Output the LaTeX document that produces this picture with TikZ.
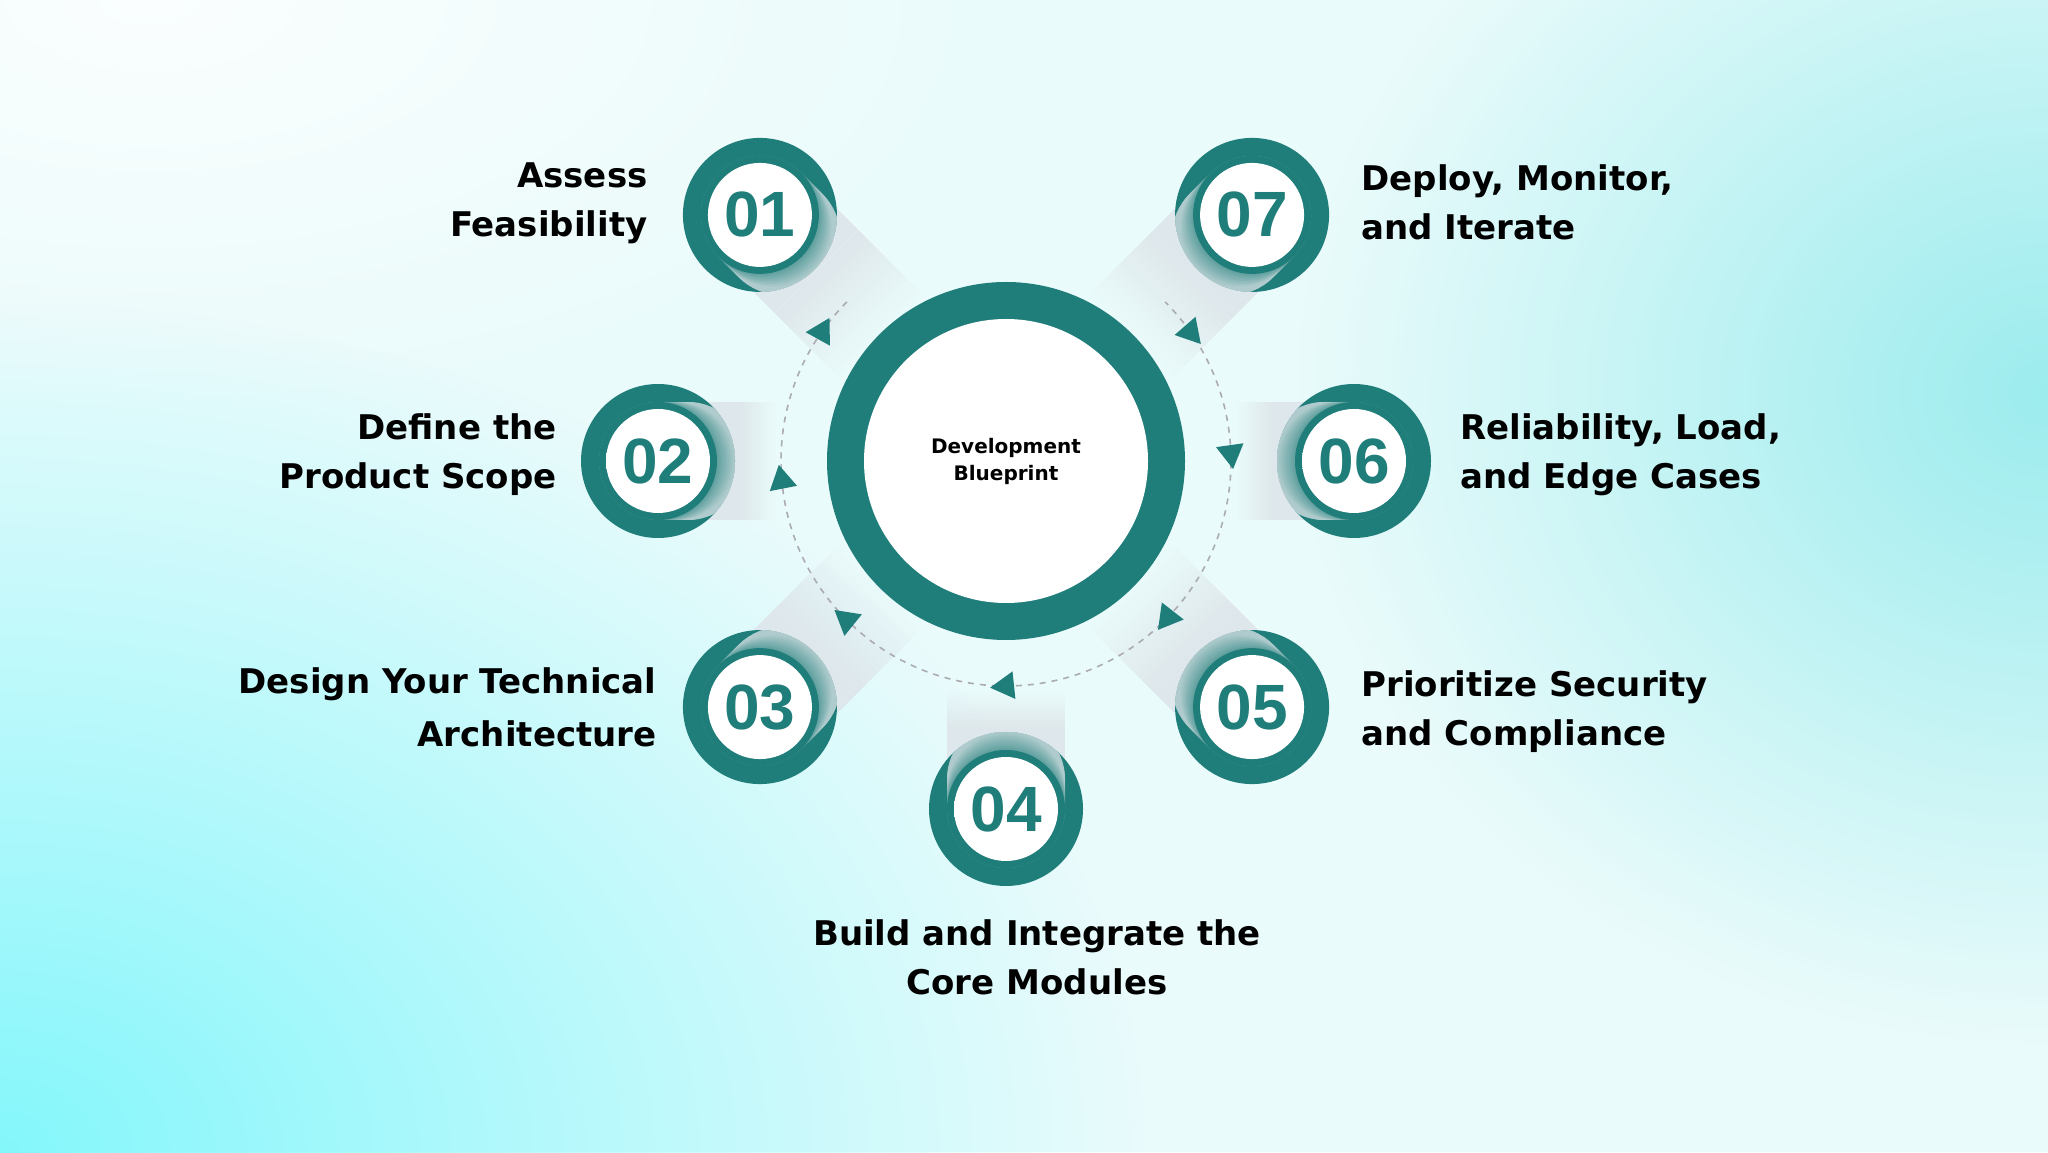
\documentclass[tikz,border=0pt]{standalone}
\usepackage{fontspec}
\setmainfont{DejaVu Sans}
\newfontfamily\numfont{Liberation Sans}
\usetikzlibrary{positioning}
\usetikzlibrary{calc,fadings}

\definecolor{stepteal}{HTML}{1F7D7A}
\definecolor{bandpale}{HTML}{BCD2D4}
\definecolor{bandgray}{HTML}{DEE7EB}
\definecolor{bgbase}{HTML}{EAFBFB}
\definecolor{bgcyan}{HTML}{84F7FC}
\definecolor{bgright}{HTML}{9CECEE}
\definecolor{dashgray}{HTML}{ABABB3}

\tikzfading[name=fadeaway, left color=transparent!0, right color=transparent!100]
\tikzfading[name=glowfade, inner color=transparent!0, outer color=transparent!100]

\pgfdeclareradialshading{discshade}{\pgfpoint{0bp}{0bp}}{color(0bp)=(white); color(31bp)=(white); color(45bp)=(black!13); color(48bp)=(black!5); color(50bp)=(black!3)}

\tikzset{
  stepnum/.style={circle, minimum size=154pt, inner sep=0pt, text=stepteal,
    font=\numfont\fontsize{64}{64}\selectfont\bfseries},
  steplabel/.style={inner sep=0pt, text=black, font=\fontsize{34}{49}\selectfont\bfseries},
  hubtext/.style={align=center, inner sep=0pt, font=\fontsize{20}{27}\selectfont\bfseries},
  flowtip/.style={fill=stepteal},
  dashring/.style={dashgray, line width=1.6pt, dash pattern=on 6pt off 6pt},
}

\begin{document}
\begin{tikzpicture}[x=1pt, y=1pt]

  \def\R{348};
  \def\rd{225};
  \coordinate (C) at (1006,691);

  \useasboundingbox (0,0) rectangle (2048,1152);
  \clip (0,0) rectangle (2048,1152);

  % background
  \fill[bgbase] (0,0) rectangle (2048,1152);
  \fill[white, opacity=0.8, path fading=glowfade] (150,1152) ellipse [x radius=850, y radius=420];
  \fill[bgcyan, path fading=glowfade] (0,0) ellipse [x radius=1150, y radius=850];
  \fill[bgright, path fading=glowfade] (2048,760) ellipse [x radius=750, y radius=650];

  % steps with their long shadows
  \foreach \n/\a/\L in {1/135/172, 2/180/118, 3/225/172, 4/270/118, 5/315/172, 6/0/118, 7/45/172} {
    \begin{scope}[transform canvas={shift={($(C)+(\a:\R)$)}, rotate=\a+180}]
      \fill[bandgray] (0,-59) rectangle (80,59);
      \fill[bandgray, path fading=fadeaway] (80,-59) rectangle (\L,59);
      \fill[stepteal] (0,0) circle (77);
      \begin{scope}
        \clip (0,0) circle (77);
        \foreach \k in {30,28,...,0} {
          \pgfmathtruncatemacro\p{max(8,62-2.7*\k)}
          \fill[stepteal!\p!bandpale] (\k,0) circle (59);
        }
      \end{scope}
      \fill[stepteal] (0,0) circle (59);
      \shade[shading=discshade] (0,0) circle (52);
    \end{scope}
    \node[stepnum] (s\n) at ($(C)+(\a:\R)$) {0\n};
  }

  % centre
  \fill[stepteal] (C) circle (179);
  \fill[white] (C) circle (142);
  \node[hubtext] (hub) at (C) {Development\\Blueprint};

  % dashed loop
  \draw[dashring] ($(C)+(135:\rd)$) arc[start angle=135, end angle=405, radius=\rd];
  \foreach \t in {145,185,225,270,316,2,35} {
    \fill[flowtip, shift={($(C)+(\t:\rd)$)}] (\t-84:16) -- (\t+36:16) -- (\t+156:16) -- cycle;
  }

  % labels
  \node[steplabel, align=right, left=35pt of s1, yshift=12pt] (l1) {Assess\\Feasibility};
  \node[steplabel, align=right, left=24pt of s2, yshift=6pt] (l2) {Define the\\Product Scope};
  \node[steplabel, align=right, left=26pt of s3] (l3) {Design Your Technical\\[4pt]Architecture};
  \node[steplabel, align=center, below=33pt of s4, xshift=31pt] (l4) {Build and Integrate the\\Core Modules};
  \node[steplabel, align=left, right=32pt of s5, yshift=-5pt] (l5) {Prioritize Security\\and Compliance};
  \node[steplabel, align=left, right=29pt of s6, yshift=6pt] (l6) {Reliability, Load,\\and Edge Cases};
  \node[steplabel, align=left, right=32pt of s7, yshift=13pt] (l7) {Deploy, Monitor,\\and Iterate};

\end{tikzpicture}
\end{document}
